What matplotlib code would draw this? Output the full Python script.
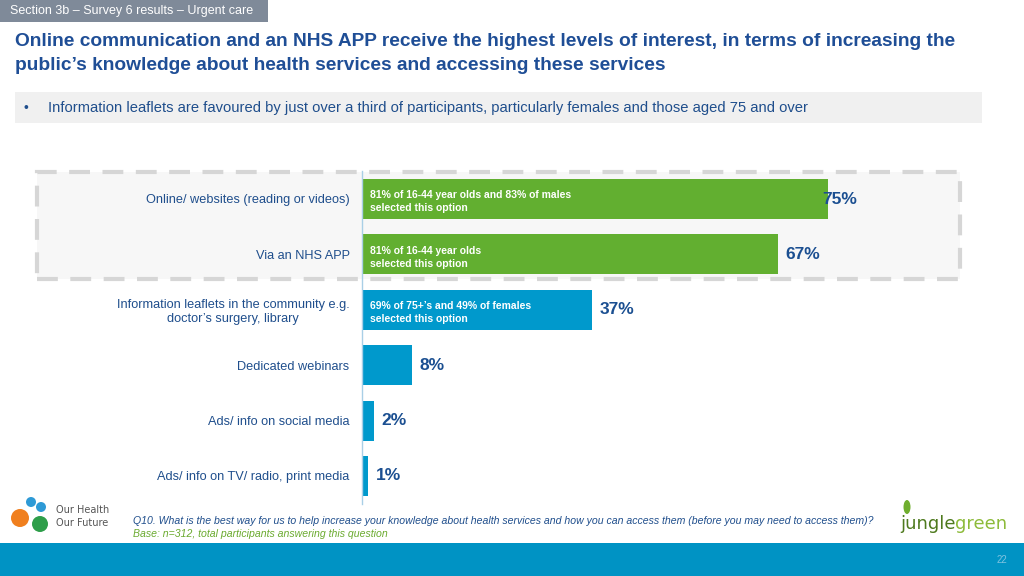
import matplotlib.pyplot as plt
from matplotlib.patches import Rectangle, Ellipse

# ==============================
# DATA
# ==============================
categories = [
    "Online/ websites (reading or videos)",
    "Via an NHS APP",
    "Information leaflets in the community e.g.\ndoctor\u2019s surgery, library",
    "Dedicated webinars",
    "Ads/ info on social media",
    "Ads/ info on TV/ radio, print media",
]
values = [75, 67, 37, 8, 2, 1]
notes = [
    "81% of 16-44 year olds and 83% of males\nselected this option",
    "81% of 16-44 year olds\nselected this option",
    "69% of 75+\u2019s and 49% of females\nselected this option",
    "", "", "",
]
bar_colors = ["#62AF30", "#62AF30", "#0099CC", "#0099CC", "#0099CC", "#0099CC"]

NAVY = "#1F4E8C"
W, H = 1024, 576

fig = plt.figure(figsize=(10.24, 5.76), dpi=100)
fig.patch.set_facecolor("white")


def fx(px):
    return px / W


def fy(py):
    return 1 - py / H


# header tab
fig.patches.append(Rectangle((0, fy(22)), fx(268), 22 / H, transform=fig.transFigure,
                             facecolor="#7F8A99", edgecolor="none"))
fig.text(fx(10), fy(11), "Section 3b \u2013 Survey 6 results \u2013 Urgent care",
         color="white", fontsize=9, va="center", family="Liberation Sans")

# title
fig.text(fx(15), fy(42), "Online communication and an NHS APP receive the highest levels of interest, in terms of increasing the",
         color="#1F4E96", fontsize=13.8, fontweight="bold", va="center", family="Liberation Sans")
fig.text(fx(15), fy(66), "public\u2019s knowledge about health services and accessing these services",
         color="#1F4E96", fontsize=13.8, fontweight="bold", va="center", family="Liberation Sans")

# subtitle box
fig.patches.append(Rectangle((fx(15), fy(123)), fx(967), 31 / H, transform=fig.transFigure,
                             facecolor="#F0F0F0", edgecolor="none"))
fig.text(fx(24), fy(108), "\u2022", color=NAVY, fontsize=10, va="center", family="Liberation Sans")
fig.text(fx(48), fy(108), "Information leaflets are favoured by just over a third of participants, particularly females and those aged 75 and over",
         color=NAVY, fontsize=10.6, va="center", family="Liberation Sans")

# dashed highlight box
fig.patches.append(Rectangle((fx(37), fy(279)), fx(923), 107 / H, transform=fig.transFigure,
                             facecolor="#F7F7F7", edgecolor="#D6D6D6", linewidth=3,
                             linestyle=(0, (5, 3)), zorder=0))

# ==============================
# CHART
# ==============================
ax = fig.add_axes([fx(362), fy(503.7), fx(621), 332.4 / H])
ax.set_zorder(3)
ax.patch.set_alpha(0)
ypos = list(range(len(categories)))
ax.barh(ypos, values, height=0.72, color=bar_colors, edgecolor="none")
ax.set_xlim(0, 100)
ax.set_ylim(len(categories) - 0.5, -0.5)

for y, v, n in zip(ypos, values, notes):
    if n:
        ax.text(1.3, y + 0.05, n, color="white", fontsize=7.5, fontweight="bold", va="center",
                linespacing=1.35, family="Liberation Sans")
    xoff = -0.9 if v == 75 else 1.2
    ax.text(v + xoff, y, f"{v}%", color="#1B4F91", fontsize=12.5, fontweight="bold",
            va="center", family="Liberation Sans")

ax.set_yticks(ypos)
ax.set_yticklabels(categories, color=NAVY, fontsize=9.2, family="Liberation Sans",
                   linespacing=1.2)
for lbl in ax.get_yticklabels():
    lbl.set_horizontalalignment("right")
    lbl.set_multialignment("center")
ax.tick_params(axis="y", length=0, pad=9)
ax.tick_params(axis="x", bottom=False, labelbottom=False)
for s in ["top", "right", "bottom"]:
    ax.spines[s].set_visible(False)
ax.spines["left"].set_color("#A9CFE6")
ax.spines["left"].set_linewidth(1)

# ==============================
# FOOTER
# ==============================
fig.text(fx(133), fy(521), "Q10. What is the best way for us to help increase your knowledge about health services and how you can access them (before you may need to access them)?",
         color=NAVY, fontsize=7.6, style="italic", va="center", family="Liberation Sans")
fig.text(fx(133), fy(534), "Base: n=312, total participants answering this question",
         color="#6AAA2E", fontsize=7.6, style="italic", va="center", family="Liberation Sans")

# simple logo marks
for (cx, cy, r, c) in [(31, 502, 5, "#2E9AD6"), (20, 518, 9, "#F07F1E"), (40, 524, 8, "#2E9E4A"),
                       (41, 507, 5, "#2E9AD6")]:
    fig.patches.append(Ellipse((fx(cx), fy(cy)), 2 * r / W, 2 * r / H, transform=fig.transFigure,
                               facecolor=c, edgecolor="none"))
fig.text(fx(56), fy(510), "Our Health", color="#555555", fontsize=7, va="center", family="Liberation Sans Narrow")
fig.text(fx(56), fy(523), "Our Future", color="#555555", fontsize=7, va="center", family="Liberation Sans Narrow")
fig.text(fx(900), fy(524), "jungle", color="#4E7A1E", fontsize=13, va="center", family="DejaVu Sans Condensed")
fig.text(fx(955), fy(524), "green", color="#8DBB3A", fontsize=13, va="center", family="DejaVu Sans Condensed")
fig.patches.append(Ellipse((fx(907), fy(507)), 7 / W, 14 / H, angle=0, transform=fig.transFigure,
                           facecolor="#6FAE2E", edgecolor="none"))

# bottom band
fig.patches.append(Rectangle((0, 0), 1, 33 / H, transform=fig.transFigure,
                             facecolor="#0093C4", edgecolor="none"))
fig.text(fx(997), fy(560), "22", color="#7FC3E0", fontsize=7, va="center", family="Liberation Sans")

fig.savefig("out.png", dpi=100)
